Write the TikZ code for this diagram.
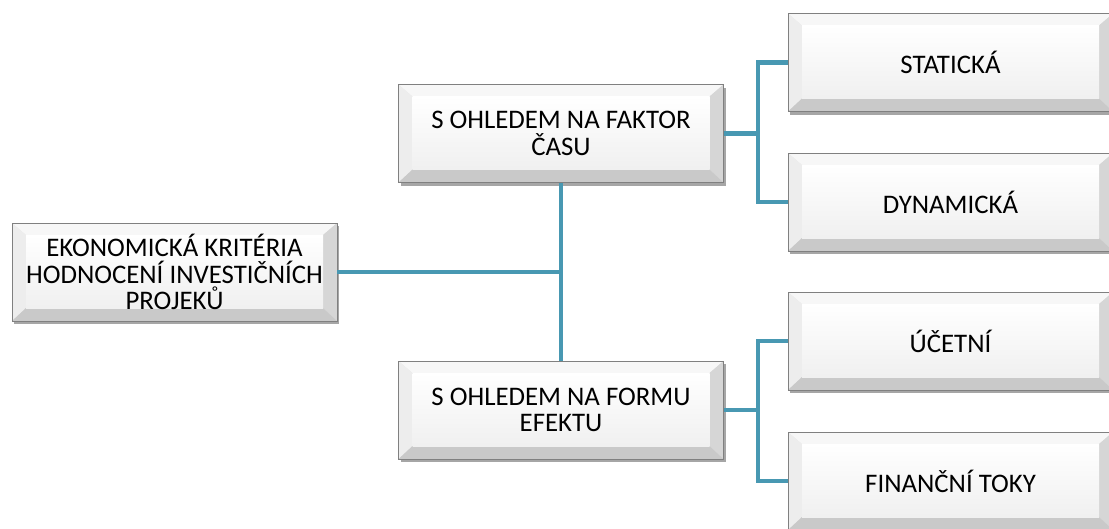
\documentclass[tikz,border=0pt]{standalone}
\usepackage{fontspec}
\setmainfont{Carlito}
\usetikzlibrary{shadows,calc}
\definecolor{conncol}{RGB}{72,152,178}
\definecolor{bordercol}{RGB}{128,128,128}
\tikzset{
  bevelbox/.style={
    draw=bordercol, line width=0.8pt,
    minimum width=325pt, minimum height=98pt,
    inner sep=0pt, align=center,
    font=\fontsize{26.8}{26.6}\selectfont,
    fill=gray!20,
    drop shadow={shadow xshift=2pt, shadow yshift=-3pt, opacity=0.35, fill=black},
    path picture={
      \coordinate (NW) at (path picture bounding box.north west);
      \coordinate (NE) at (path picture bounding box.north east);
      \coordinate (SW) at (path picture bounding box.south west);
      \coordinate (SE) at (path picture bounding box.south east);
      \coordinate (iNW) at ([xshift=14pt,yshift=-12pt]NW);
      \coordinate (iNE) at ([xshift=-14pt,yshift=-12pt]NE);
      \coordinate (iSW) at ([xshift=14pt,yshift=13pt]SW);
      \coordinate (iSE) at ([xshift=-14pt,yshift=13pt]SE);
      \fill[gray!6] (NW) -- (NE) -- (iNE) -- (iNW) -- cycle;
      \fill[gray!14] (NW) -- (iNW) -- (iSW) -- (SW) -- cycle;
      \fill[gray!32] (NE) -- (SE) -- (iSE) -- (iNE) -- cycle;
      \fill[gray!42] (SW) -- (iSW) -- (iSE) -- (SE) -- cycle;
      \shade[top color=white, bottom color=gray!12] (iNW) rectangle (iSE);
    }
  },
  conn/.style={draw=conncol, line width=4.5pt}
}
\begin{document}
\begin{tikzpicture}[x=1pt, y=-1pt]
\useasboundingbox (0,0) rectangle (1109,528);
\clip (0,0) rectangle (1109,528);

\node[bevelbox] (root) at (174.5,272) {EKONOMICKÁ KRITÉRIA\\HODNOCENÍ INVESTIČNÍCH\\PROJEKŮ};
\node[bevelbox] (t1) at (561,133.5) {S OHLEDEM NA FAKTOR\\ČASU};
\node[bevelbox] (t2) at (561,410) {S OHLEDEM NA FORMU\\EFEKTU};
\node[bevelbox] (r1) at (950.5,62.5) {STATICKÁ};
\node[bevelbox] (r2) at (950.5,202) {DYNAMICKÁ};
\node[bevelbox] (r3) at (950.5,341) {ÚČETNÍ};
\node[bevelbox] (r4) at (950.5,481) {FINANČNÍ TOKY};

\coordinate (ja) at ($(t1.east)+(34,0)$);
\coordinate (jb) at ($(t2.east)+(34,0)$);

\draw[conn] (root.east) -- (root.east -| t1.south);
\draw[conn] (t1.south) -- (t2.north);
\draw[conn] (t1.east) -- (ja);
\draw[conn] (r1.west) -- (r1.west -| ja) |- (r2.west);
\draw[conn] (t2.east) -- (jb);
\draw[conn] (r3.west) -- (r3.west -| jb) |- (r4.west);
\end{tikzpicture}
\end{document}
